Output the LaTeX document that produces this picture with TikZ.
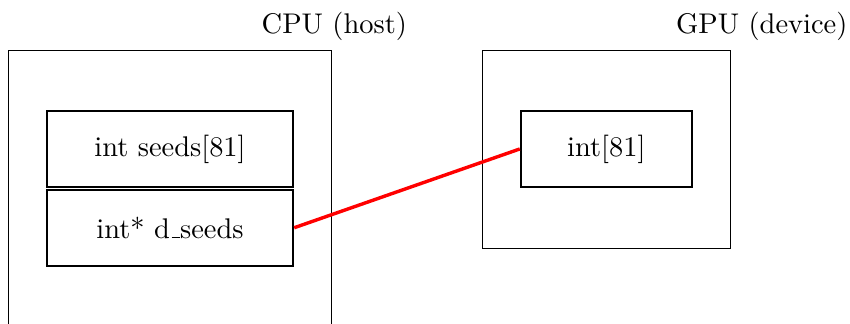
\documentclass[tikz,border=0pt]{standalone}
\usepackage{tikz}
\usetikzlibrary{positioning}

\begin{document}
\begin{tikzpicture}[boite/.style={draw, thick, minimum height=0.94cm, inner sep=0pt}]
            % Cadre
            \clip (0,0) rectangle (10.5,-4);

            % Hote (CPU)
            \draw (0.1,-4.3) rectangle (4.1,-0.62);
            \node[anchor=base] (cpu) at (4.13,-0.41) {CPU (host)};
            \node[boite, minimum width=3.04cm] (seeds) at (2.1,-1.84) {int seeds[81]};
            \node[boite, minimum width=3.04cm, below=0.005cm of seeds] (dseeds) {int* d\kern.06em\vbox{\hrule width.3em}seeds};

            % Device (GPU)
            \draw (5.96,-0.62) rectangle (9.02,-3.07);
            \node[anchor=base] (gpu) at (9.41,-0.41) {GPU (device)};
            \node[boite, minimum width=2.11cm] (tab) at (7.49,-1.84) {int[81]};

            % Le pointeur
            \draw[red, very thick] (dseeds.east) -- (tab.west);
        \end{tikzpicture}
\end{document}
